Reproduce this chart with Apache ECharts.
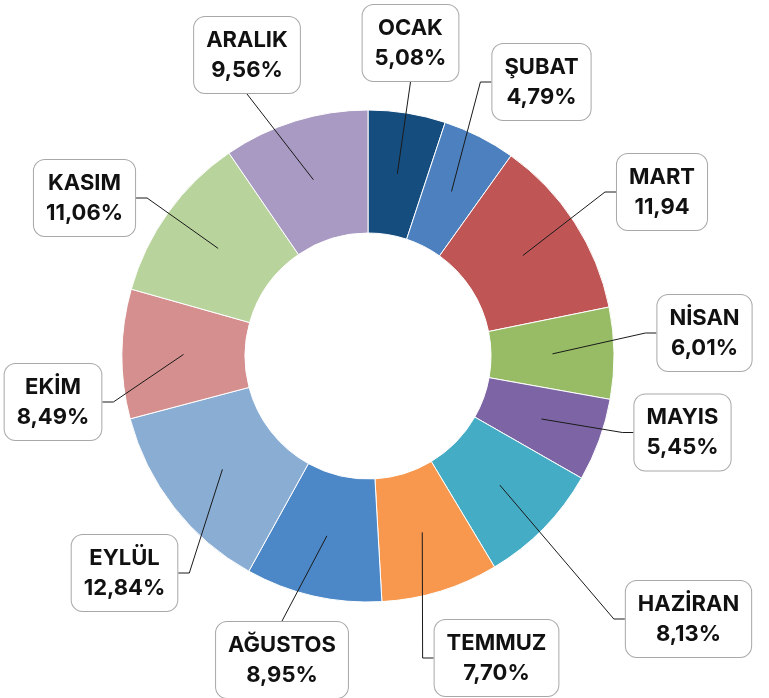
<!DOCTYPE html>
<html>
<head>
<meta charset="utf-8">
<script src="https://cdn.jsdelivr.net/npm/echarts@6.0.0/dist/echarts.min.js"></script>
<style>
  html, body { margin: 0; padding: 0; background: #ffffff; }
  #chart { width: 769px; height: 698px; }
</style>
</head>
<body>
<div id="chart"></div>
<script>
// Monthly shares (%)
const months = ['OCAK', 'ŞUBAT', 'MART', 'NİSAN', 'MAYIS', 'HAZİRAN', 'TEMMUZ', 'AĞUSTOS', 'EYLÜL', 'EKİM', 'KASIM', 'ARALIK'];
const shares = [5.08, 4.79, 11.94, 6.01, 5.45, 8.13, 7.70, 8.95, 12.84, 8.49, 11.06, 9.56];
const suffixes = ['%', '%', '', '%', '%', '%', '%', '%', '%', '%', '%', '%'];

const sliceColors = ['#154d7e', '#4c80be', '#bf5655', '#97bc65', '#7d65a5', '#44acc4',
                     '#f7984e', '#4c88c7', '#8aadd4', '#d58f8e', '#b8d39b', '#a89ac2'];

// Label box centres and the side of the box where the leader line ends
const labelBoxes = [
  [410.5, 43, 'bottom'],
  [541.5, 82, 'left'],
  [662, 192, 'left'],
  [704.5, 333, 'left'],
  [682.5, 432.5, 'left'],
  [688.5, 619, 'left'],
  [496.5, 658, 'left'],
  [282, 660, 'top'],
  [124.5, 573, 'right'],
  [53, 402, 'right'],
  [84.5, 198, 'right'],
  [247, 55, 'bottom']
];
const elbow = 11;

const CENTER = [368, 356];
const R_OUT = 246, R_IN = 123;

function fmt(v) { return v.toFixed(2).replace('.', ','); }

const ringData = months.map((m, i) => ({ name: m, value: shares[i], itemStyle: { color: sliceColors[i] } }));
const labelData = months.map((m, i) => ({ name: m, value: shares[i] }));

const chart = echarts.init(document.getElementById('chart'), null, { renderer: 'canvas' });
chart.setOption({
  animation: false,
  backgroundColor: '#ffffff',
  series: [
    {
      type: 'pie',
      z: 2,
      center: CENTER,
      radius: [R_IN, R_OUT],
      startAngle: 90,
      clockwise: true,
      silent: true,
      label: { show: false },
      labelLine: { show: false },
      itemStyle: { borderColor: '#ffffff', borderWidth: 1 },
      data: ringData
    },
    {
      // transparent pie whose edge sits mid-ring: leader lines start there
      type: 'pie',
      z: 10,
      center: CENTER,
      radius: [0, (R_IN + R_OUT) / 2],
      startAngle: 90,
      clockwise: true,
      silent: true,
      avoidLabelOverlap: false,
      itemStyle: { color: 'rgba(0,0,0,0)', borderWidth: 0 },
      label: {
        show: true,
        position: 'outside',
        formatter: p => p.name + '\n' + fmt(shares[p.dataIndex]) + suffixes[p.dataIndex],
        color: '#111111',
        fontFamily: 'Inter',
        fontWeight: 700,
        fontSize: 22,
        lineHeight: 30,
        backgroundColor: '#ffffff',
        borderColor: '#a8a8a8',
        borderWidth: 1,
        borderRadius: 11,
        padding: [8, 12]
      },
      labelLine: {
        show: true,
        length: 10,
        length2: 10,
        lineStyle: { color: '#1a1a1a', width: 1 }
      },
      labelLayout: function (p) {
        const b = labelBoxes[p.dataIndex];
        const w = p.labelRect.width, h = p.labelRect.height;
        const start = p.labelLinePoints[0];
        let end, bend;
        if (b[2] === 'left') {
          end = [b[0] - w / 2, b[1]];
          bend = [end[0] - elbow, b[1]];
        } else if (b[2] === 'right') {
          end = [b[0] + w / 2, b[1]];
          bend = [end[0] + elbow, b[1]];
        } else if (b[2] === 'bottom') {
          end = [b[0], b[1] + h / 2];
          bend = end;
        } else {
          end = [b[0], b[1] - h / 2];
          bend = end;
        }
        return {
          x: b[0], y: b[1],
          align: 'center', verticalAlign: 'middle',
          labelLinePoints: [start, bend, end]
        };
      },
      data: labelData
    }
  ]
});
</script>
</body>
</html>
